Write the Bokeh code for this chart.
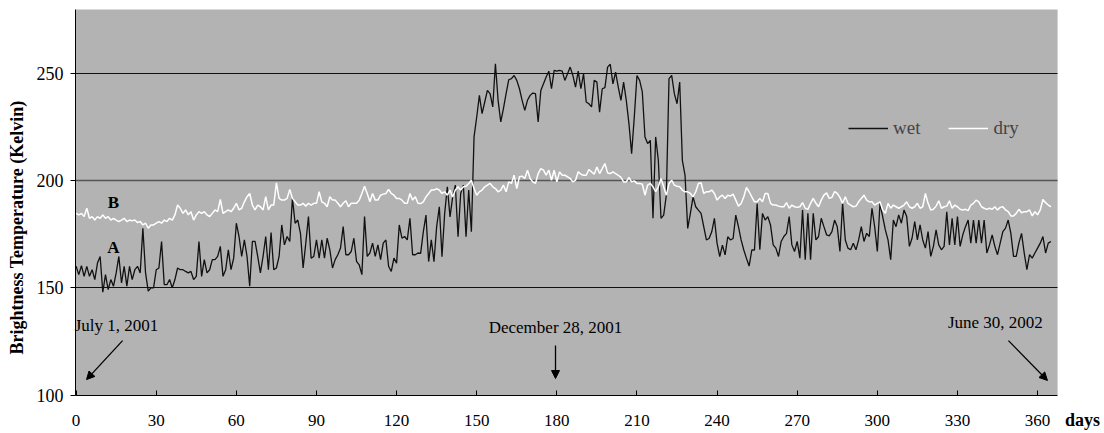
from bokeh.plotting import figure
from bokeh.models import (Range1d, FixedTicker, Label, Arrow, NormalHead, Grid,
                          Legend, LegendItem, ColumnDataSource, BoxAnnotation)
from bokeh.embed import file_html
from bokeh.resources import INLINE

# ---------------- data ----------------
wet = [
    160.1, 156.2, 160.4, 155.4, 160.1, 155.4, 158.5, 153.9, 161.6, 164.7,
    148.0, 156.2, 149.2, 153.9, 150.8, 157.0, 164.7, 152.3, 160.1, 150.8,
    160.1, 153.9, 158.5, 160.1, 157.0, 177.9, 157.0, 148.5, 150.0, 150.0,
    158.5, 159.3, 171.7, 151.5, 151.5, 153.9, 150.0, 153.9, 159.3, 158.5,
    158.5, 157.7, 157.0, 157.7, 153.9, 155.4, 171.7, 155.4, 163.2, 157.0,
    158.5, 163.2, 163.2, 164.7, 169.4, 155.4, 158.5, 167.8, 158.5, 163.9,
    180.2, 174.0, 164.7, 172.4, 164.7,
    150.8, 171.7, 171.7, 164.7, 157.0, 164.7, 174.0, 158.5, 175.9, 158.5,
    159.3, 164.7, 179.4, 170.1, 174.0, 171.7, 191.8, 180.2, 181.7, 175.5,
    159.3, 170.9, 183.3, 163.9, 164.7, 172.4, 163.9, 172.4, 163.9, 173.2,
    167.8, 159.3, 163.2, 165.5, 168.6, 178.6, 165.5, 165.5, 167.0, 173.2,
    162.4, 160.8, 156.2, 183.3, 164.7, 166.3, 170.9, 164.7, 170.1, 163.2,
    170.9, 172.4, 160.1, 157.7, 163.9, 161.6, 179.4, 173.2, 174.0, 172.4,
    182.5, 165.5, 165.5, 166.3,
    166.1, 176.2, 184.0, 162.3, 172.4, 162.3, 178.6, 187.9, 164.6, 184.8,
    197.2, 183.2, 192.5, 198.0, 173.9, 194.1, 198.0, 173.9, 195.7, 176.2,
    220.5, 229.8, 239.9, 231.4, 236.8, 242.2, 240.7, 234.5, 254.7, 237.6,
    227.5, 233.7, 240.7, 247.2, 247.7, 249.2, 246.9, 243.0, 237.6, 232.9,
    237.6, 239.9, 241.0, 240.7, 227.5, 242.2, 245.3, 248.5, 251.2, 243.0,
    251.6, 251.2, 251.6, 251.2, 246.9, 250.0, 253.1, 249.2, 243.8, 251.2,
    243.0, 250.0, 236.8, 236.0,
    234.5, 246.9, 246.1, 232.1, 243.0, 243.5, 253.1, 254.4, 245.3, 250.8,
    243.8, 237.6, 246.1, 237.6, 226.7, 212.7, 229.8, 249.2, 246.9, 241.5,
    220.5, 217.4, 218.9, 182.5, 220.5, 209.6, 182.5, 184.0, 193.3, 247.7,
    249.2, 240.7, 236.0, 246.1, 209.6, 202.6, 177.8, 184.8, 192.5, 187.9,
    186.3, 184.8, 178.6, 172.4, 173.1, 176.2, 182.5, 170.8, 164.6, 170.0,
    165.4, 173.9, 172.4, 173.1, 184.0, 178.6, 172.4, 167.7, 163.8, 160.2,
    167.7, 167.7, 189.4,
    167.8, 184.8, 181.7, 183.3, 179.4, 170.1, 168.6, 164.7, 171.7, 174.0,
    175.5, 183.3, 170.1, 167.0, 171.7, 163.9, 186.4, 163.2, 184.8, 163.2,
    184.8, 172.4, 174.0, 182.5, 178.6, 174.8, 174.3, 176.3, 181.7, 178.6,
    167.0, 189.5, 172.4, 168.6, 167.8, 170.9, 167.8, 172.4, 178.6, 171.7,
    175.5, 174.0, 187.2, 178.6, 167.0, 189.5, 183.3, 177.1, 172.4, 163.2,
    181.7, 178.6, 184.1, 180.2, 186.4, 183.3, 169.4, 173.2, 181.0, 172.4,
    179.4, 172.4, 168.6, 176.3,
    164.7, 169.4, 177.1, 170.1, 167.8, 169.4, 185.6, 170.1, 182.5, 170.1,
    183.3, 169.4, 174.8, 178.6, 181.7, 170.9, 181.7, 170.9, 181.7, 170.9,
    181.7, 166.3, 170.1, 174.8, 169.4, 165.5, 170.9, 176.3, 177.9, 181.7,
    175.5, 164.7, 164.7, 170.9, 175.5, 166.3, 158.5, 165.5, 163.9, 166.3,
    168.6, 170.9, 174.0, 166.3, 170.9, 171.7,
]

dry = [
    184.8, 184.1, 184.8, 183.3, 187.2, 182.5, 183.3, 181.7, 183.3, 182.5,
    184.1, 182.5, 183.3, 181.7, 182.5, 181.7, 181.0, 181.7, 182.5, 181.0,
    181.7, 181.3, 181.7, 180.5, 181.0, 179.4, 180.2, 177.9, 179.4, 179.4,
    180.2, 181.0, 180.2, 181.7, 181.0, 182.5, 181.7, 184.1, 188.7, 187.2,
    184.8, 186.4, 184.1, 185.6, 181.7, 184.1, 185.6, 184.8, 185.6, 184.1,
    183.3, 184.8, 186.4, 185.6, 191.3, 184.8, 185.6, 186.4, 185.6, 187.2,
    189.5, 186.4, 187.2, 190.2, 192.6,
    194.1, 188.7, 186.4, 188.7, 187.9, 186.4, 192.6, 186.4, 188.7, 188.7,
    199.1, 191.8, 191.0, 191.0, 191.8, 196.0, 191.8, 190.2, 188.7, 188.7,
    189.5, 188.2, 189.5, 188.7, 189.5, 189.5, 194.9, 190.2, 189.5, 187.9,
    192.6, 191.0, 191.0, 189.5, 187.9, 189.5, 190.7, 187.9, 189.5, 189.5,
    189.5, 191.0, 194.1, 197.5, 194.1, 190.2, 194.1, 191.0, 191.0, 193.3,
    193.8, 194.1, 196.0, 194.1, 193.3, 191.8, 191.8, 191.0, 189.5, 189.5,
    194.1, 191.0, 192.6, 189.5,
    189.4, 190.2, 192.5, 194.1, 195.7, 195.7, 196.4, 195.7, 194.1, 194.9,
    193.3, 195.7, 192.5, 195.7, 197.2, 195.7, 197.2, 197.5, 198.8, 200.3,
    196.4, 193.3, 194.9, 195.7, 197.2, 198.0, 198.8, 197.2, 196.4, 194.9,
    195.7, 198.0, 194.9, 199.5, 198.8, 202.6, 196.4, 201.9, 202.2, 201.1,
    205.0, 201.1, 199.5, 198.8, 203.4, 205.7, 205.0, 202.6, 205.0, 200.3,
    205.0, 199.5, 204.2, 202.6, 202.6, 201.9, 201.1, 199.5, 200.3, 204.2,
    203.1, 202.6, 202.6, 205.3,
    204.2, 203.1, 206.5, 203.4, 205.7, 208.1, 203.7, 203.4, 204.2, 203.4,
    202.6, 201.6, 199.5, 199.5, 201.6, 199.5, 200.0, 198.8, 198.8, 198.4,
    193.3, 198.0, 198.8, 197.2, 194.9, 197.2, 201.1, 197.2, 193.3, 198.8,
    200.3, 198.0, 197.5, 197.2, 195.7, 194.9, 194.9, 194.1, 192.5, 194.9,
    198.8, 199.1, 194.1, 194.9, 194.9, 195.7, 194.1, 191.0, 192.5, 193.3,
    191.8, 193.3, 192.9, 193.8, 191.0, 188.2, 189.4, 192.5, 196.9, 194.9,
    192.5, 190.2, 190.2,
    191.8, 190.2, 194.1, 194.1, 189.5, 188.7, 188.7, 188.2, 187.9, 187.9,
    189.8, 187.2, 188.7, 187.9, 187.6, 187.9, 189.8, 187.2, 186.7, 189.5,
    191.8, 189.5, 187.9, 191.0, 193.3, 194.4, 191.8, 192.3, 195.0, 194.1,
    192.3, 189.5, 192.6, 189.5, 188.7, 187.9, 188.2, 190.2, 191.8, 193.3,
    191.0, 190.2, 190.2, 188.7, 189.5, 190.2, 186.4, 184.8, 189.5, 187.2,
    188.7, 187.9, 187.2, 187.9, 188.7, 190.2, 187.9, 187.2, 187.9, 189.5,
    187.2, 187.9, 194.1, 189.5,
    186.4, 186.7, 188.2, 190.7, 187.2, 187.9, 188.2, 190.7, 187.2, 188.7,
    187.9, 186.7, 186.4, 186.7, 186.1, 188.7, 189.5, 191.0, 190.2, 187.9,
    187.2, 186.7, 187.2, 186.7, 187.9, 186.4, 187.6, 187.9, 186.4, 185.6,
    183.6, 183.6, 184.8, 186.7, 185.1, 185.6, 185.6, 186.4, 183.6, 185.6,
    184.1, 186.4, 191.3, 189.8, 188.7, 187.9,
]

days = list(range(len(wet)))
x_ticks = [0, 30, 60, 90, 120, 150, 180, 210, 240, 270, 300, 330, 360]
y_ticks = [100, 150, 200, 250]

# plotted area (data units)
X0, X1 = -0.2, 367.5
Y0, Y1 = 100, 280

SERIF = "Liberation Serif"

p = figure(width=1104, height=433, output_backend="svg", toolbar_location=None,
           x_range=Range1d(-28.31, 385.06), y_range=Range1d(82.03, 284.2),
           min_border_left=0, min_border_right=0, min_border_top=0,
           min_border_bottom=0)
p.background_fill_color = "white"
p.border_fill_color = "white"
p.outline_line_color = None

# gray plotting area
p.add_layout(BoxAnnotation(left=X0, right=X1, bottom=Y0, top=Y1,
                           fill_color="#b3b3b3", fill_alpha=1.0,
                           line_color=None, level="image"))

# grid lines
p.xgrid.visible = False
p.ygrid.visible = False
g1 = Grid(dimension=1, ticker=FixedTicker(ticks=[150, 250]),
          grid_line_color="#111111", grid_line_width=1)
g2 = Grid(dimension=1, ticker=FixedTicker(ticks=[200]),
          grid_line_color="#555555", grid_line_width=1.3)
use_segments = False
for g in (g1, g2):
    try:
        g.cross_bounds = (X0, X1)
    except AttributeError:
        use_segments = True
if use_segments:
    p.segment(x0=[X0, X0], x1=[X1, X1], y0=[150, 250], y1=[150, 250],
              line_color="#111111", line_width=1, level="underlay")
    p.segment(x0=[X0], x1=[X1], y0=[200], y1=[200],
              line_color="#555555", line_width=1.3, level="underlay")
else:
    p.add_layout(g1)
    p.add_layout(g2)

xa = p.xaxis[0]
xa.fixed_location = Y0
xa.bounds = (X0, X1)
xa.ticker = FixedTicker(ticks=x_ticks)
xa.major_tick_in = 5
xa.major_tick_out = 0
xa.minor_tick_line_color = None
xa.axis_line_color = "black"
xa.major_tick_line_color = "black"
xa.major_label_text_font = SERIF
xa.major_label_text_font_size = "17px"
xa.major_label_text_color = "black"
xa.major_label_standoff = 20

ya = p.yaxis[0]
ya.fixed_location = X0
ya.bounds = (Y0, Y1)
ya.ticker = FixedTicker(ticks=y_ticks)
ya.major_tick_in = 0
ya.major_tick_out = 5
ya.minor_tick_line_color = None
ya.axis_line_color = "black"
ya.major_tick_line_color = "black"
ya.major_label_text_font = SERIF
ya.major_label_text_font_size = "18px"
ya.major_label_text_color = "black"
ya.major_label_standoff = 7

src = ColumnDataSource(dict(days=days, wet=wet, dry=dry))
r_wet = p.line("days", "wet", source=src, line_color="#111111", line_width=1.3)
r_dry = p.line("days", "dry", source=src, line_color="white", line_width=1.5)

legend = Legend(items=[LegendItem(label="wet", renderers=[r_wet]),
                       LegendItem(label="dry", renderers=[r_dry])],
                orientation="horizontal", location=(848, 294),
                background_fill_alpha=0, border_line_color=None,
                label_text_font=SERIF, label_text_font_size="19px",
                glyph_width=40, label_standoff=5, spacing=28,
                padding=0, margin=0)
p.add_layout(legend)


def lab(x, y, text, size="17px", bold=False, angle=0, align="center"):
    p.add_layout(Label(x=x, y=y, text=text, text_font=SERIF,
                       text_font_size=size,
                       text_font_style="bold" if bold else "normal",
                       text_align=align, text_baseline="middle",
                       angle=angle, angle_units="deg", text_color="black"))


lab(-22.3, 178.2, "Brightness Temperature (Kelvin)", size="18px", bold=True, angle=90)
lab(376.8, 88.5, "days", size="18px", bold=True)
lab(14.0, 189.9, "B", size="17px", bold=True)
lab(14.0, 168.7, "A", size="17px", bold=True)
lab(15.1, 132.5, "July 1, 2001", size="17px")
lab(179.5, 131.5, "December 28, 2001", size="17px")
lab(344.2, 133.9, "June 30, 2002", size="17px")

for xs, ys, xe, ye in [(17.4, 125.4, 3.9, 107.2),
                       (179.5, 123.1, 179.5, 107.7),
                       (349.1, 125.4, 363.7, 106.8)]:
    p.add_layout(Arrow(end=NormalHead(size=8, fill_color="black", line_color="black"),
                       x_start=xs, y_start=ys, x_end=xe, y_end=ye,
                       line_color="black", line_width=1.3))

open("out.html", "w").write(file_html(p, INLINE))
